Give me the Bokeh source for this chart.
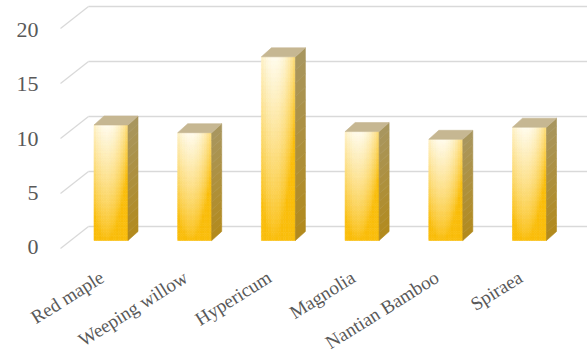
from bokeh.plotting import figure
from bokeh.models import Range1d
from bokeh.core.properties import value
from bokeh.embed import file_html
from bokeh.resources import INLINE
import math

# ---------------- data ----------------
categories = ["Red maple", "Weeping willow", "Hypericum", "Magnolia", "Nantian Bamboo", "Spiraea"]
values = [10.5, 9.8, 16.7, 9.9, 9.2, 10.3]
y_ticks = [0, 5, 10, 15, 20]
y_tick_labels = ["0", "5", "10", "15", "20"]

# ---------------- layout / style constants ----------------
W, H = 587, 354
PX_X = 83.7          # pixels per category
PX_Y = 11.0          # pixels per value unit
X0 = 110.5           # screen x of first category
Y0 = 240.0           # screen y of value 0 (bar front plane)

def dx(px):
    return px / PX_X

def dy(px):
    return px / PX_Y

p = figure(width=W, height=H, output_backend="svg", toolbar_location=None,
           x_range=Range1d(-X0 / PX_X, (W - X0) / PX_X),
           y_range=Range1d((Y0 - H) / PX_Y, Y0 / PX_Y),
           min_border=0)
p.axis.visible = False
p.grid.visible = False
p.outline_line_color = None
p.background_fill_color = "white"
p.border_fill_color = "white"

# ---------------- back wall gridlines ----------------
WALL_X = dx(88 - X0)
FRONT_X = dx(60 - X0)
WALL_SHIFT = dy(Y0 - 226)        # wall plane 0 is 14 px above bar plane 0
END_X = dx(W - X0) + 1
grid_col = "#d9d9d9"
for g in y_ticks:
    yw = g + WALL_SHIFT
    p.line([WALL_X, END_X], [yw, yw], line_color=grid_col, line_width=1.3)
    p.line([FRONT_X, WALL_X], [yw - dy(22), yw], line_color=grid_col, line_width=1.3)

# ---------------- y tick labels ----------------
for g, lab in zip(y_ticks, y_tick_labels):
    ys = 246.5 - 10.85 * g
    p.text(x=[dx(38 - X0)], y=[(Y0 - ys) / PX_Y], text=[lab],
           text_font=value("Liberation Serif"), text_font_size="22px",
           text_color="#595959", text_align="right", text_baseline="middle")

# ---------------- bars ----------------
HALF = 17.0   # half front width px
DEP_X = 10.0  # depth offset px
DEP_Y = 9.0

def lerp(c1, c2, t):
    t = max(0.0, min(1.0, t))
    return "#%02x%02x%02x" % tuple(int(round(a + (b - a) * t)) for a, b in zip(c1, c2))

gold = (250, 190, 12)
cream = (255, 252, 238)
NR, NC = 44, 14

for i, v in enumerate(values):
    # front face gradient (grid of small quads)
    lefts, rights, bottoms, tops, cols = [], [], [], [], []
    for r in range(NR):
        for c in range(NC):
            u = (c + 0.5) / NC
            w = (r + 0.5) / NR            # 0 at top, 1 at bottom
            t = 1.0 - 1.0 * w - 1.6 * (u - 0.38) ** 2
            t = t ** 0.85 if t > 0 else 0
            lefts.append(i + dx(-HALF + 2 * HALF * c / NC))
            rights.append(i + dx(-HALF + 2 * HALF * (c + 1) / NC))
            tops.append(v * (1 - r / NR))
            bottoms.append(v * (1 - (r + 1) / NR))
            cols.append(lerp(gold, cream, t))
    p.quad(left=lefts, right=rights, bottom=bottoms, top=tops,
           fill_color=cols, line_color=cols, line_width=0.6)

    # right side face
    nside = 14
    for k in range(nside):
        b0 = v * k / nside
        b1 = v * (k + 1) / nside
        col = lerp((178, 138, 28), (168, 150, 96), (k + 0.5) / nside)
        xs = [i + dx(HALF), i + dx(HALF + DEP_X), i + dx(HALF + DEP_X), i + dx(HALF)]
        ys = [b0, b0 + dy(DEP_Y), b1 + dy(DEP_Y), b1]
        p.patch(xs, ys, fill_color=col, line_color=col, line_width=0.6)

    # top face
    xs = [i + dx(-HALF), i + dx(HALF), i + dx(HALF + DEP_X), i + dx(-HALF + DEP_X)]
    ys = [v, v, v + dy(DEP_Y), v + dy(DEP_Y)]
    p.patch(xs, ys, fill_color="#c6b792", line_color="#c6b792", line_width=0.6)

# ---------------- category labels ----------------
LABEL_Y = 275.0
p.text(x=list(range(len(categories))), y=[(Y0 - LABEL_Y) / PX_Y] * len(categories),
       text=categories, angle=math.radians(32), x_offset=-9,
       text_font=value("Liberation Serif"), text_font_size="19px",
       text_color="#595959", text_align="right", text_baseline="alphabetic")

open("out.html", "w").write(file_html(p, INLINE))
